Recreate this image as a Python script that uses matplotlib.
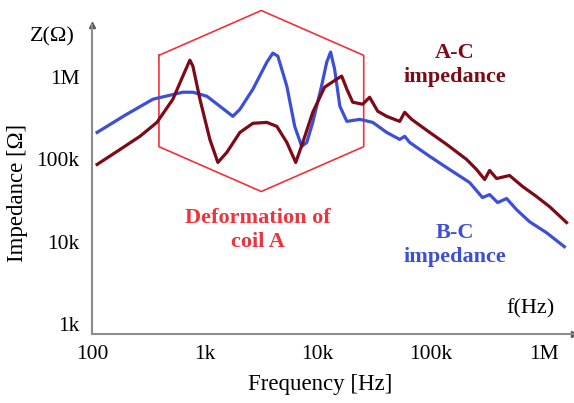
import numpy as np
import matplotlib
matplotlib.use('Agg')
import matplotlib.pyplot as plt

# Curvas de impedancia (frecuencia en Hz, impedancia en ohm)
f_bc = [111, 196, 347, 638, 783, 1042, 1358, 1770, 2043, 2663, 3540, 4000, 4430, 5320,
        6250, 7210, 7990, 9030, 10.8e3, 12.0e3, 13.0e3, 14.1e3, 15.7e3, 18.1e3, 23.6e3,
        30.7e3, 40.8e3, 53.2e3, 58.9e3, 65.2e3, 98e3, 147e3, 221e3, 288e3, 333e3, 392e3,
        471e3, 577e3, 752e3, 1.06e6, 1.53e6]
z_bc = [213e3, 344e3, 540e3, 656e3, 656e3, 586e3, 443e3, 334e3, 407e3, 714e3, 1.52e6,
        1.96e6, 1.80e6, 777e3, 252e3, 144e3, 161e3, 282e3, 777e3, 1.52e6, 2.02e6, 1.25e6,
        443e3, 290e3, 307e3, 282e3, 213e3, 175e3, 191e3, 161e3, 109e3, 75.5e3, 52.5e3,
        34.4e3, 37.4e3, 29.9e3, 33.5e3, 24.5e3, 17.5e3, 12.9e3, 8.7e3]

f_ac = [111, 177, 266, 376, 521, 638, 736, 783, 904, 1107, 1303, 1566, 2043, 2663, 3540,
        4340, 5320, 6380, 7370, 9030, 11.5e3, 14.7e3, 16.3e3, 18.1e3, 20.4e3, 25.0e3,
        28.8e3, 34.0e3, 40.8e3, 53.2e3, 58.9e3, 67.9e3, 98e3, 139e3, 208e3, 255e3, 301e3,
        333e3, 384e3, 500e3, 652e3, 867e3, 1.13e6, 1.60e6]
z_ac = [86.9e3, 132e3, 191e3, 282e3, 540e3, 1.03e6, 1.61e6, 1.36e6, 540e3, 175e3, 91.9e3,
        122e3, 213e3, 275e3, 282e3, 252e3, 161e3, 91.9e3, 161e3, 374e3, 755e3, 946e3,
        1.03e6, 714e3, 496e3, 469e3, 570e3, 385e3, 334e3, 290e3, 374e3, 307e3, 213e3,
        152e3, 100e3, 75.5e3, 57.0e3, 73.5e3, 58.6e3, 63.8e3, 46.9e3, 35.4e3, 26.7e3, 17.1e3]

x_ticks = [1e2, 1e3, 1e4, 1e5, 1e6]
x_labels = ['100', '1k', '10k', '100k', '1M']
y_ticks = [1e3, 1e4, 1e5, 1e6]
y_labels = ['1k', '10k', '100k', '1M']

# Hexágono "deformación" (centro y semiejes en décadas)
hex_cx, hex_cy = 3.5, 5.71
hex_rx, hex_ry_side, hex_ry_tip = 0.907, 0.555, 1.10

plt.rcParams['font.family'] = ['Liberation Serif', 'DejaVu Serif']

fig = plt.figure(figsize=(5.74, 4.03), dpi=100)
ax = fig.add_axes([92/574, 1 - 334/403, 1 - 92/574, (334 - 25)/403])
ax.set_xscale('log')
ax.set_yscale('log')
ax.set_xlim(1e2, 10**6.27)
ax.set_ylim(10**2.878, 10**6.634)

c_blue = '#3c4fd6'
c_red = '#7d0a16'
c_hex = '#f0323c'
ax.plot(f_bc, z_bc, color=c_blue, lw=2.3, solid_joinstyle='round', zorder=3)
ax.plot(f_ac, z_ac, color=c_red, lw=2.3, solid_joinstyle='round', zorder=4)

# hexágono
hx = np.array([-hex_rx, 0, hex_rx, hex_rx, 0, -hex_rx, -hex_rx]) + hex_cx
hy = np.array([hex_ry_side, hex_ry_tip, hex_ry_side, -hex_ry_side, -hex_ry_tip, -hex_ry_side, hex_ry_side]) + hex_cy
ax.plot(10**hx, 10**hy, color=c_hex, lw=1.2, clip_on=False, zorder=2)

for s in ['top', 'right']:
    ax.spines[s].set_visible(False)
for s in ['left', 'bottom']:
    ax.spines[s].set_color('#8c8c8c')
    ax.spines[s].set_linewidth(1.5)
ax.plot(0, 1, marker='^', color='#555555', ms=4, transform=ax.transAxes, clip_on=False)
ax.plot(1, 0, marker='>', color='#555555', ms=4, transform=ax.transAxes, clip_on=False)

ax.set_xticks(x_ticks)
ax.set_xticklabels(x_labels, fontsize=15.5)
ax.set_yticks(y_ticks)
ax.set_yticklabels(y_labels, fontsize=15.5)
ax.minorticks_off()
ax.tick_params(length=0, pad=8)
ax.tick_params(axis='y', pad=9)

ax.set_xlabel('Frequency [Hz]', fontsize=16.5)
ax.xaxis.set_label_coords(0.473, -0.13)
ax.set_ylabel('Impedance [Ω]', fontsize=16.5)
ax.yaxis.set_label_coords(-0.133, 0.456)

fig.text(52/574, 1 - 37/403, 'Z(Ω)', fontsize=16, ha='center', va='center')
ax.text(7.6e5, 1.55e3, 'f(Hz)', fontsize=16, ha='center', va='center')
ax.text(1.63e5, 1.4e6, 'A-C\nimpedance', color=c_red, fontsize=16, fontweight='bold',
        ha='center', va='center', linespacing=1.25)
ax.text(1.63e5, 9.2e3, 'B-C\nimpedance', color=c_blue, fontsize=16, fontweight='bold',
        ha='center', va='center', linespacing=1.25)
ax.text(2.95e3, 1.4e4, 'Deformation of\ncoil A', color=c_hex, fontsize=16, fontweight='bold',
        ha='center', va='center', linespacing=1.25)

fig.savefig('out.png', dpi=100)
